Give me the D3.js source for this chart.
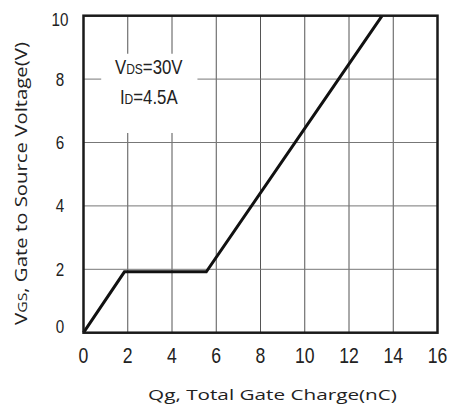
<!DOCTYPE html>
<html>
<head>
<meta charset="utf-8">
<script src="https://cdn.jsdelivr.net/npm/d3@7"></script>
<style>
  body { margin: 0; background: #fff; }
</style>
</head>
<body>
<div id="chart"></div>
<script>
// gate charge curve
var qg  = [0, 1.85, 5.55, 13.5];
var vgs = [0, 1.92, 1.92, 10];
var xTicks = [0, 2, 4, 6, 8, 10, 12, 14, 16];
var yTicks = [0, 2, 4, 6, 8, 10];

var W = 452, H = 408;
var margin = {top: 15.7, right: 14.5, bottom: 75.3, left: 83.5},
    width = W - margin.left - margin.right,
    height = H - margin.top - margin.bottom;

var sans = "'Liberation Sans', Arial, sans-serif";
var plain = "'Open Sans', 'Noto Sans', sans-serif";
var squeeze = 0.8;   // fake a condensed face

var svg = d3.select("#chart")
  .append("svg")
    .attr("width", W)
    .attr("height", H)
  .append("g")
    .attr("transform", "translate(" + margin.left + "," + margin.top + ")");

var x = d3.scaleLinear().domain([0, 16]).range([0, width]);
var y = d3.scaleLinear().domain([0, 10]).range([height, 0]);

// narrow text: a g that is squeezed sideways
function narrowText(parent, px, py, size) {
  return parent.append("g")
    .attr("transform", "translate(" + px + "," + py + ") scale(" + squeeze + ",1)")
    .append("text")
    .attr("text-anchor", "middle")
    .attr("font-family", sans)
    .attr("font-size", size)
    .attr("fill", "#222");
}

// grid
svg.selectAll(".vgrid")
  .data(xTicks.slice(1, -1))
  .enter().append("line")
  .attr("x1", function(d){ return x(d); })
  .attr("x2", function(d){ return x(d); })
  .attr("y1", 0).attr("y2", height)
  .attr("stroke", "#555").attr("stroke-width", 1);

svg.selectAll(".hgrid")
  .data(yTicks.slice(1, -1))
  .enter().append("line")
  .attr("x1", 0).attr("x2", width)
  .attr("y1", function(d){ return y(d); })
  .attr("y2", function(d){ return y(d); })
  .attr("stroke", "#777").attr("stroke-width", 1);

// white box behind the test conditions
svg.append("rect")
  .attr("x", x(0.8)).attr("y", y(8.8))
  .attr("width", x(5.15) - x(0.8))
  .attr("height", y(6.3) - y(8.8))
  .attr("fill", "#fff");

var t1 = narrowText(svg, x(2.95), 58.5, 21);
t1.append("tspan").text("V");
t1.append("tspan").attr("font-size", 15).text("DS");
t1.append("tspan").text("=30V");
var t2 = narrowText(svg, x(2.95), 88.5, 21);
t2.append("tspan").text("I");
t2.append("tspan").attr("font-size", 15).text("D");
t2.append("tspan").text("=4.5A");

// curve
var pts = qg.map(function(d, i){ return [d, vgs[i]]; });
svg.append("path")
  .datum(pts)
  .attr("fill", "none")
  .attr("stroke", "#111")
  .attr("stroke-width", 3)
  .attr("stroke-linejoin", "miter")
  .attr("d", d3.line().x(function(d){ return x(d[0]); }).y(function(d){ return y(d[1]); }));

// frame
svg.append("rect")
  .attr("x", 0).attr("y", 0)
  .attr("width", width).attr("height", height)
  .attr("fill", "none")
  .attr("stroke", "#1a1a1a")
  .attr("stroke-width", 2.5);

// tick labels
xTicks.forEach(function(d){
  narrowText(svg, x(d), height + 30, 22).text(d);
});

yTicks.forEach(function(d){
  var off = 6.5;
  if (d == 10) off = 10;
  if (d == 0) off = 0;
  narrowText(svg, -23.5, y(d) + off, 19).text(d);
});

// axis titles, stretched to the width they take in the picture
var xg = svg.append("g");
var xt = xg.append("text")
  .attr("text-anchor", "middle")
  .attr("font-family", plain)
  .attr("font-size", 15)
  .attr("fill", "#222")
  .text("Qg, Total Gate Charge(nC)");
var kx = 249 / xt.node().getComputedTextLength();
xg.attr("transform", "translate(" + ((148 + 397) / 2 - margin.left) + "," + (400 - margin.top) + ") scale(" + kx + ",1)");

var yg = svg.append("g");
var yt = yg.append("text")
  .attr("text-anchor", "middle")
  .attr("font-family", plain)
  .attr("font-size", 15.5)
  .attr("fill", "#222");
yt.append("tspan").text("V");
yt.append("tspan").attr("font-size", 12).text("GS");
yt.append("tspan").text(", Gate to Source Voltage(V)");
var ky = 283 / yt.node().getComputedTextLength();
yg.attr("transform", "translate(" + (27 - margin.left) + "," + (183.5 - margin.top) + ") rotate(-90) scale(" + ky + ",1)");
</script>
</body>
</html>
